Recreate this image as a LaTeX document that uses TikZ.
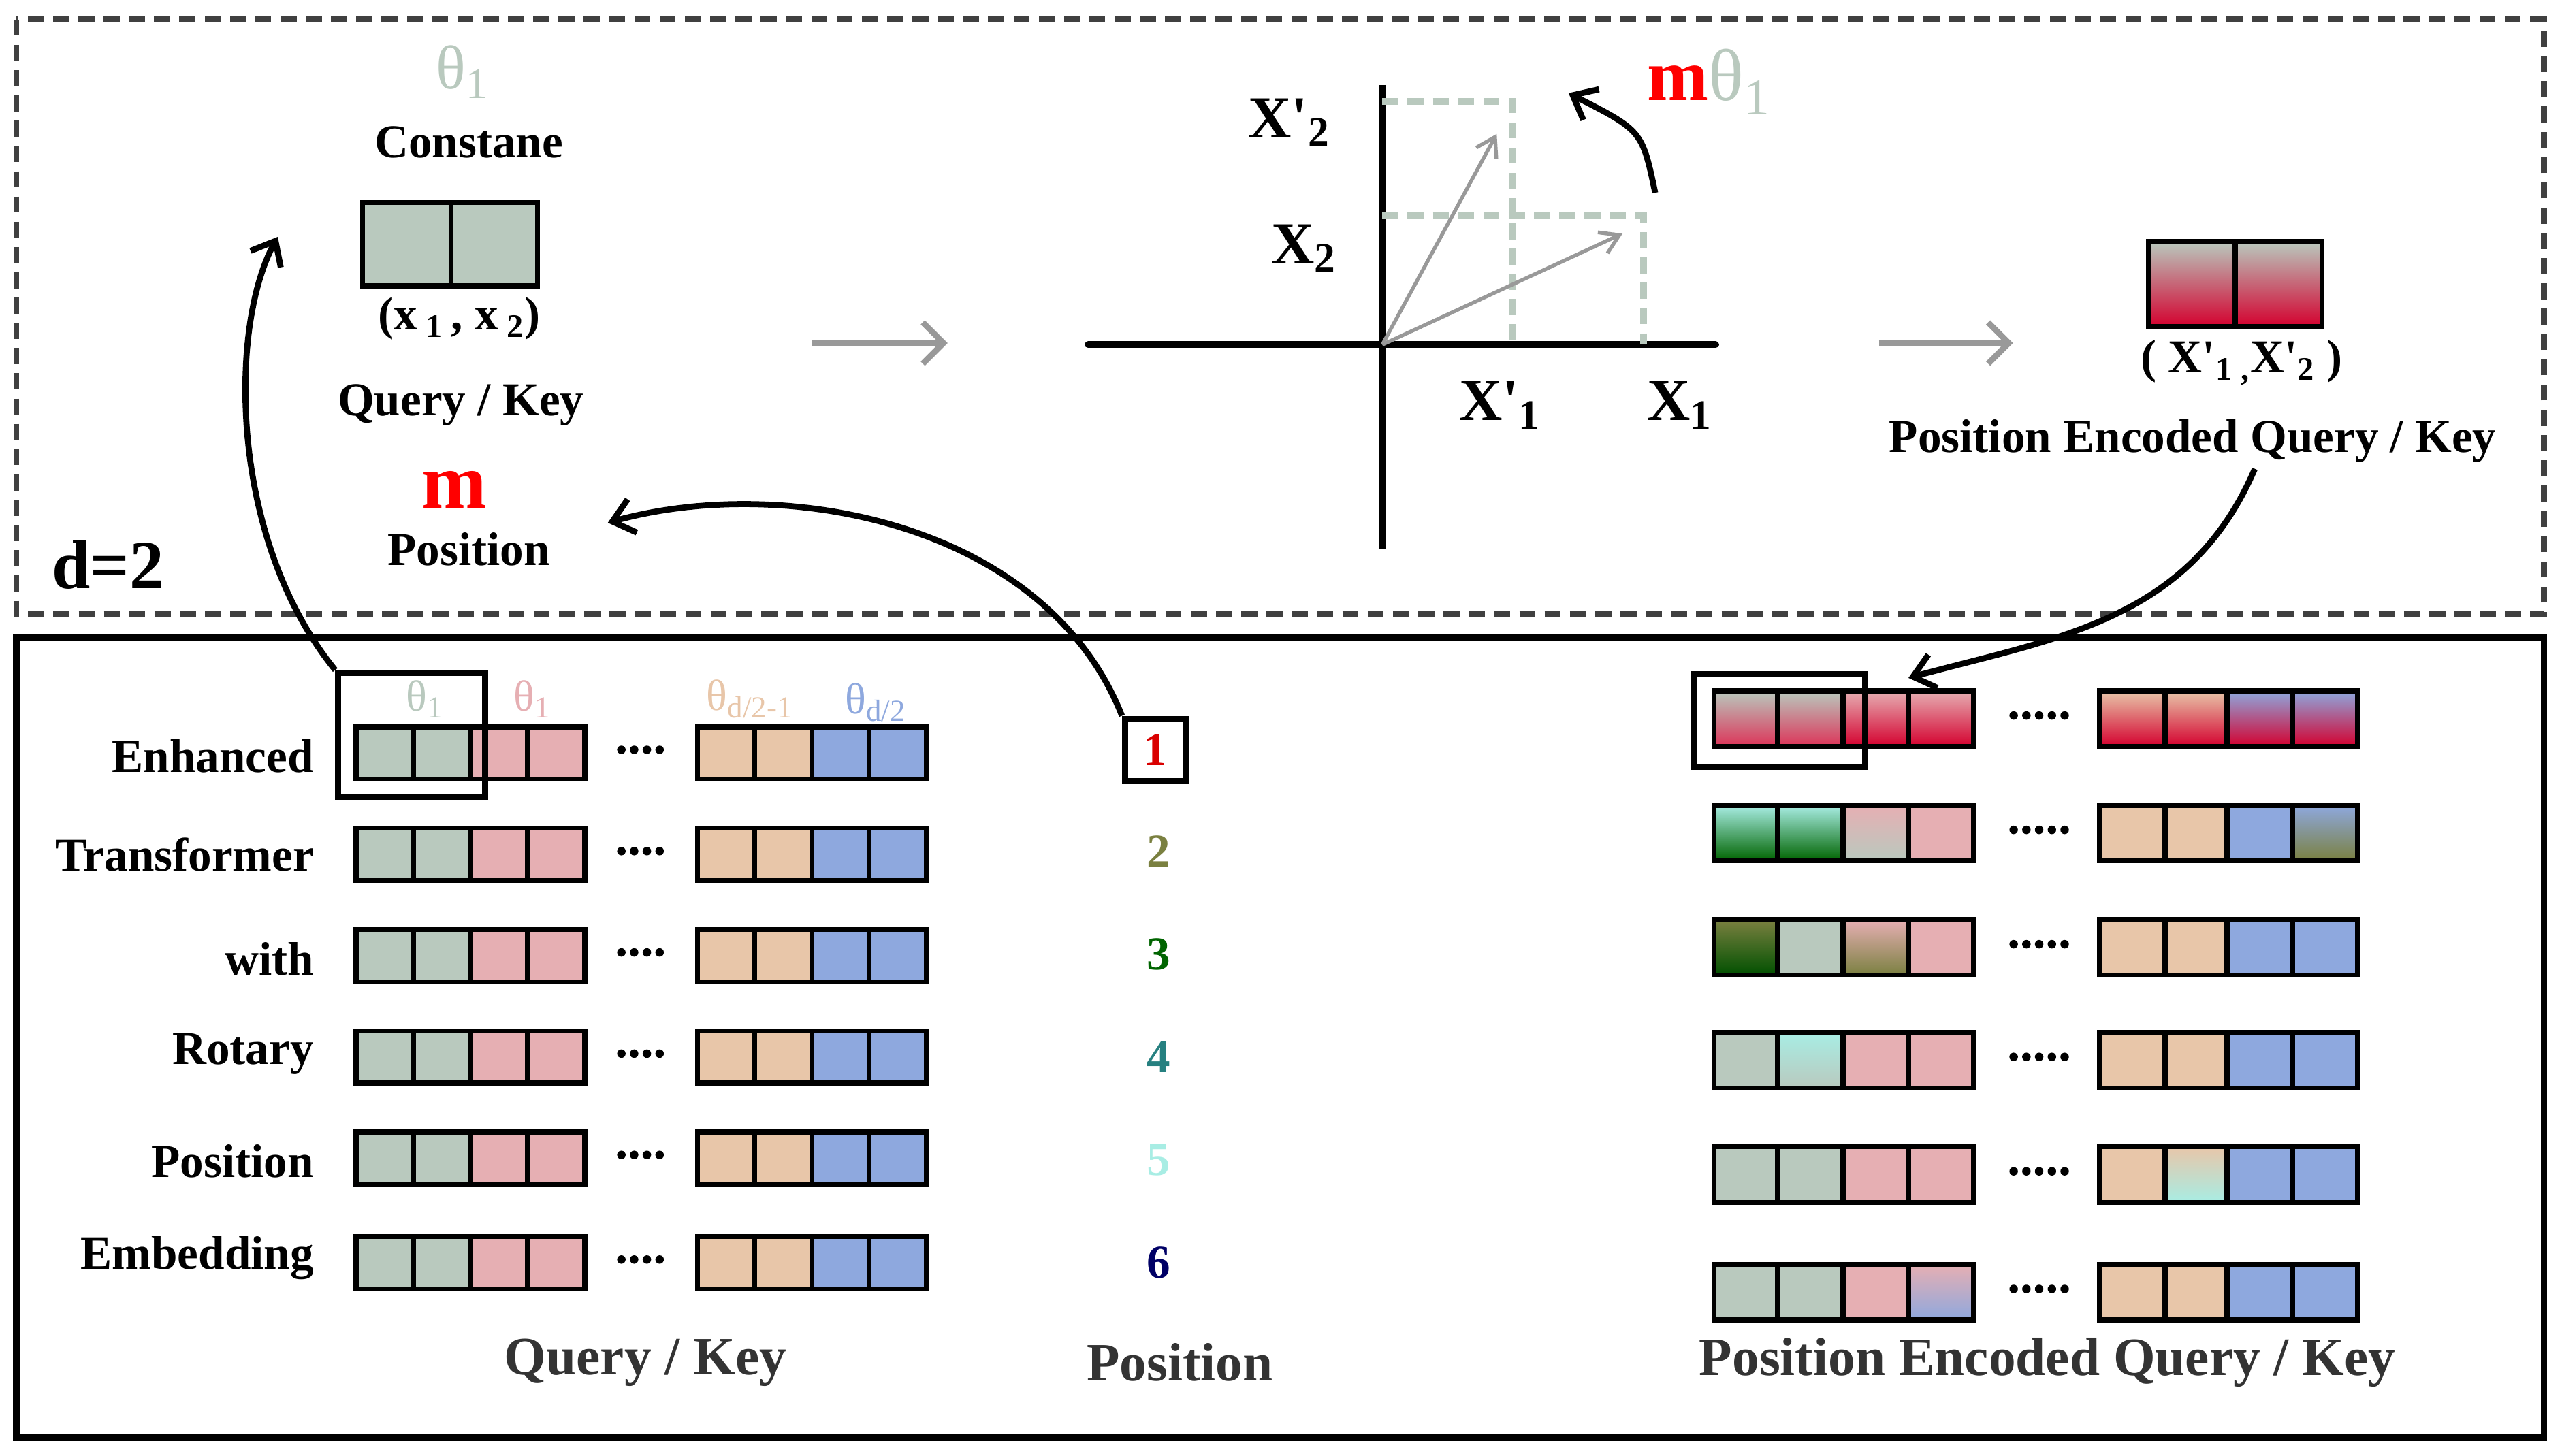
\documentclass[tikz,border=0pt]{standalone}
\usepackage{fontspec}
\setmainfont{Liberation Serif}
\usepackage{xcolor}
\usetikzlibrary{arrows.meta,positioning}
\definecolor{cg}{HTML}{B9C9BE}
\definecolor{cp}{HTML}{E6AFB3}
\definecolor{co}{HTML}{E8C6A9}
\definecolor{cb}{HTML}{8EA8DE}
\definecolor{cred}{HTML}{D4002E}
\definecolor{cdg}{HTML}{006400}
\definecolor{ccy}{HTML}{A8EDE4}
\definecolor{col}{HTML}{7A8040}
\definecolor{cmred}{HTML}{FF0000}
\definecolor{agrey}{HTML}{999999}
\definecolor{ltext}{HTML}{333333}
\newcommand{\pr}{\textquotesingle}
\tikzset{
  cell/.style={draw=black, line width=2.2pt},
  G/.style={cell, fill=cg}, P/.style={cell, fill=cp},
  O/.style={cell, fill=co}, B/.style={cell, fill=cb},
  gr/.style={cell, top color=cg, bottom color=cred!80},
  pr/.style={cell, top color=cp, bottom color=cred},
  or/.style={cell, top color=co, bottom color=cred},
  br/.style={cell, top color=cb, bottom color=cred},
  cd/.style={cell, top color=ccy, bottom color=cdg},
  pg/.style={cell, top color=cp, bottom color=cg},
  bo/.style={cell, top color=cb, bottom color=col},
  od/.style={cell, top color=col, bottom color=cdg!80!black},
  po/.style={cell, top color=cp, bottom color=col},
  cgr/.style={cell, top color=ccy, bottom color=cg},
  ocy/.style={cell, top color=co, bottom color=ccy},
  pb/.style={cell, top color=cp, bottom color=cb},
  lab/.style={font=\fontsize{20.5}{24}\selectfont\bfseries},
  big/.style={font=\fontsize{26}{30}\selectfont\bfseries},
  th/.style={font=\fontsize{19}{23}\selectfont},
  bot/.style={text=ltext, font=\fontsize{23.5}{27}\selectfont\bfseries},
  hl/.style={draw=black, line width=2.6pt, inner sep=0pt},
  curv/.style={draw=black, line width=2.6pt, -{Straight Barb[length=9pt,width=15pt,line width=2.6pt]}},
  garr/.style={draw=agrey, line width=2.6pt, -{Straight Barb[length=9pt,width=18pt]}},
}
\newcommand{\dotrow}[3]{\foreach \k in {1,...,#3} \fill (#1+\k*7.8-7.8*#3/2-3.9,#2) circle (2.6);}
\begin{document}
\begin{tikzpicture}[x=0.025cm, y=-0.025cm]
  \useasboundingbox (0,0) rectangle (1568,891);
  % frames
  \draw[line width=2.6pt, dash pattern=on 7pt off 4pt, draw=black!75] (10,12) rectangle (1557,376);
  \draw[line width=2.8pt] (10,390) rectangle (1557,880);
  \node[font=\fontsize{30}{32}\selectfont\bfseries] (d2) at (66,346) {d=2};

  % top left: constant / query / position
  \node[text=cg, font=\fontsize{27}{29}\selectfont] (th1) at (283,44) {θ\textsubscript{1}};
  \node[lab] (const) at (287,87) {Constane};
  \draw[G] (222,124) rectangle (276,175);
  \draw[G] (276,124) rectangle (329,175);
  \node[lab] (xx) at (281,195) {(x\textsubscript{ 1}\,, x\textsubscript{ 2})};
  \node[lab] (qklab) at (282,248) {Query / Key};
  \node[text=cmred, font=\fontsize{34}{36}\selectfont\bfseries] (m) at (278,300) {m};
  \node[lab] (pos) at (287,336) {Position};

  \draw[garr] (497,210) -- (580,210);
  \draw[garr] (1150,210) -- (1232,210);

  % rotation plane
  \coordinate (orig) at (846,211);
  \draw[line width=3pt, line cap=round] (666,211) -- (1050,211);
  \draw[line width=3pt] (846,52) -- (846,336);
  \draw[cg, line width=3pt, dash pattern=on 7pt off 4pt] (846,62) -| (926,211);
  \draw[cg, line width=3pt, dash pattern=on 7pt off 4pt] (846,132) -| (1006,211);
  \draw[agrey, line width=1.6pt, -{Straight Barb[length=8pt,width=10pt]}] (orig) -- (916,82);
  \draw[agrey, line width=1.6pt, -{Straight Barb[length=8pt,width=10pt]}] (orig) -- (993,143);
  \draw[curv] (1013,118) .. controls (1005,80) .. (960,57);
  \node[big] (x2p) at (789,75) {X\pr\textsubscript{2}};
  \node[big] (x2) at (798,152) {X\textsubscript{2}};
  \node[big] (x1p) at (918,248) {X\pr\textsubscript{1}};
  \node[big] (x1) at (1028,248) {X\textsubscript{1}};
  \node[font=\fontsize{32}{34}\selectfont\bfseries] (mth) at (1046,50) {\textcolor{cmred}{m}\textcolor{cg}{\mdseries θ\textsubscript{1}}};

  % top right: encoded pair
  \draw[gr, bottom color=cred] (1315,148) rectangle (1368,200);
  \draw[gr, bottom color=cred] (1368,148) rectangle (1421,200);
  \node[lab] (xxp) at (1372,222) {( X\pr\textsubscript{1}\,\textsubscript{,}X\pr\textsubscript{2} )};
  \node[lab] (pelab) at (1342,270) {Position Encoded Query / Key};

  % bottom left: query / key rows
  \foreach \y/\t in {463/Enhanced,523/Transformer,587/with,645/Rotary,711/Position,770/Embedding}
    \node[lab, anchor=east] at (197,\y) {\t};
  \foreach \y in {461,523,585,647,709,773}{
    \foreach \x/\s in {218/G,253/G,288/P,323/P,427/O,462/O,497/B,532/B}
      \draw[\s] (\x,\y-16) rectangle (\x+35,\y+16);
    \dotrow{392}{\y-2}{4}
  }
  \node[th, text=cg] (t1) at (260,428) {θ\textsubscript{1}};
  \node[th, text=cp] (t2) at (326,428) {θ\textsubscript{1}};
  \node[th, text=co] (t3) at (459,428) {θ\textsubscript{d/2-1}};
  \node[th, text=cb] (t4) at (536,430) {θ\textsubscript{d/2}};
  \node[hl, minimum width=90*0.025cm, minimum height=76*0.025cm] (hlq) at (252,450) {};

  % positions
  \node[hl, lab, text=red!85!black, minimum width=37*0.025cm, minimum height=38*0.025cm] (p1) at (707,459) {1};
  \foreach \n/\c/\y in {2/col/521,3/cdg/584,4/teal!70!gray/647,5/ccy/710,6/blue!40!black/773}
    \node[lab, text=\c] (p\n) at (709,\y) {\n};

  % bottom right: encoded rows
  \foreach \y/\a/\b/\c/\d/\e/\f/\g/\h in {
      440/gr/gr/pr/pr/or/or/br/br,
      510/cd/cd/pg/P/O/O/B/bo,
      580/od/G/po/P/O/O/B/B,
      649/G/cgr/P/P/O/O/B/B,
      719/G/G/P/P/O/ocy/B/B,
      791/G/G/P/pb/O/O/B/B}{
    \draw[\a] (1049,\y-17) rectangle (1088,\y+17);
    \draw[\b] (1088,\y-17) rectangle (1128,\y+17);
    \draw[\c] (1128,\y-17) rectangle (1168,\y+17);
    \draw[\d] (1168,\y-17) rectangle (1208,\y+17);
    \draw[\e] (1285,\y-17) rectangle (1325,\y+17);
    \draw[\f] (1325,\y-17) rectangle (1363,\y+17);
    \draw[\g] (1363,\y-17) rectangle (1403,\y+17);
    \draw[\h] (1403,\y-17) rectangle (1443,\y+17);
    \dotrow{1248}{\y-2}{5}
  }
  \node[hl, minimum width=105*0.025cm, minimum height=57*0.025cm] (hle) at (1089,441) {};

  \node[bot] (bq) at (395,834) {Query / Key};
  \node[bot] (bp) at (722,834) {Position};
  \node[bot] (be) at (1253,834) {Position Encoded Query / Key};

  % connectors
  \draw[curv] (hlq.north west) .. controls (140,330) and (140,200) .. (170,145);
  \draw[curv] (p1.north west) .. controls (640,320) and (480,290) .. (372,320);
  \draw[curv] (1380,287) .. controls (1340,380) and (1260,390) .. (1168,415);
\end{tikzpicture}
\end{document}
